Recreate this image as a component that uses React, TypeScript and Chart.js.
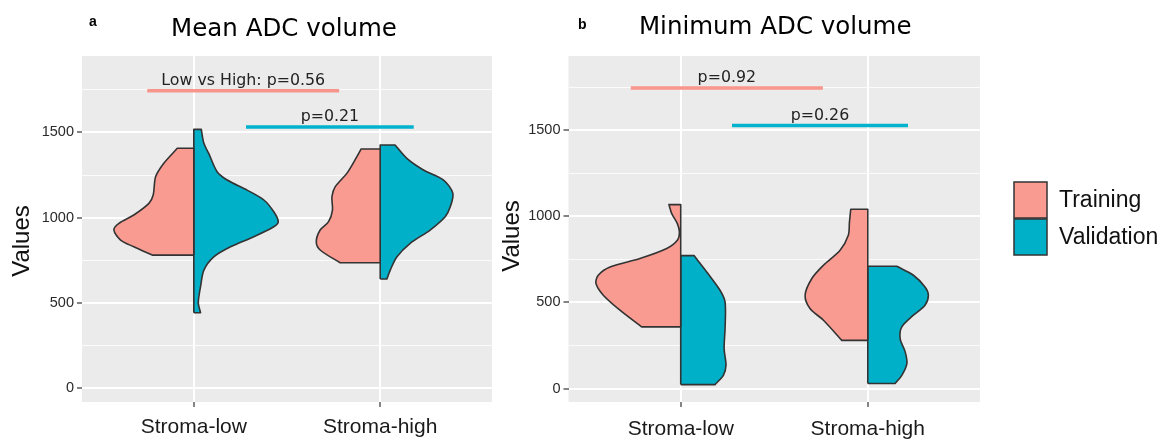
import React, { useEffect, useRef } from 'react';
import { Chart, registerables } from 'chart.js';

Chart.register(...registerables);

// ---------- data ----------
const categories = ['Stroma-low', 'Stroma-high'];
const groups = ['Training', 'Validation'];
const yTickValues = [0, 500, 1000, 1500];
const yMinorValues = [250, 750, 1250, 1750];

// Mean ADC volume: violin outline levels (value) and half-widths (category units)
const meanLowTrainY = [781, 830, 869, 928, 967, 1016, 1084, 1133, 1240, 1319, 1407];
const meanLowTrainW = [0.223, 0.322, 0.393, 0.429, 0.402, 0.322, 0.241, 0.218, 0.205, 0.161, 0.089];
const meanLowValidY = [443, 498, 537, 596, 693, 771, 830, 889, 947, 977, 1035, 1104, 1162, 1221, 1270, 1377, 1436, 1518];
const meanLowValidW = [0.036, 0.024, 0.027, 0.036, 0.054, 0.107, 0.197, 0.322, 0.429, 0.453, 0.429, 0.376, 0.286, 0.179, 0.125, 0.08, 0.054, 0.04];
const meanHighTrainY = [736, 811, 859, 928, 977, 1045, 1123, 1182, 1260, 1358, 1403];
const meanHighTrainW = [0.215, 0.322, 0.343, 0.322, 0.277, 0.256, 0.259, 0.241, 0.179, 0.125, 0.102];
const meanHighValidY = [641, 693, 771, 850, 928, 1006, 1064, 1143, 1221, 1280, 1348, 1426];
const meanHighValidW = [0.036, 0.054, 0.09, 0.161, 0.268, 0.349, 0.376, 0.39, 0.34, 0.232, 0.143, 0.08];

// Minimum ADC volume
const minLowTrainY = [358, 455, 542, 610, 658, 706, 755, 813, 861, 909, 958, 1016, 1068];
const minLowTrainW = [0.209, 0.325, 0.414, 0.453, 0.441, 0.378, 0.218, 0.075, 0.018, 0.007, 0.018, 0.048, 0.063];
const minLowValidY = [23, 77, 135, 232, 348, 503, 571, 677, 772];
const minLowValidW = [0.183, 0.228, 0.242, 0.232, 0.237, 0.237, 0.21, 0.139, 0.071];
const minHighTrainY = [280, 397, 465, 542, 639, 716, 803, 890, 967, 1041];
const minHighTrainW = [0.139, 0.237, 0.309, 0.335, 0.299, 0.237, 0.148, 0.104, 0.098, 0.091];
const minHighValidY = [29, 77, 145, 213, 290, 358, 426, 484, 542, 590, 658, 710];
const minHighValidW = [0.146, 0.182, 0.209, 0.2, 0.173, 0.182, 0.244, 0.306, 0.324, 0.306, 0.244, 0.155];

// significance bars
const meanSigLabels = ['Low vs High: p=0.56', 'p=0.21'];
const meanSigStart = [0.75, 1.28];
const meanSigEnd = [1.78, 2.18];
const meanSigY = [1745, 1532];
const minSigLabels = ['p=0.92', 'p=0.26'];
const minSigStart = [0.733, 1.274];
const minSigEnd = [1.76, 2.215];
const minSigY = [1745, 1527];

// ---------- styling ----------
const TRAIN_FILL = '#F99B91';
const VALID_FILL = '#00AFC8';
const TRAIN_LINE = '#F8968B';
const VALID_LINE = '#00B2CE';
const groupFills = [TRAIN_FILL, VALID_FILL];
const sigColors = [TRAIN_LINE, VALID_LINE];
const SANS = '"Liberation Sans", Arial, sans-serif';
const DEJAVU = '"DejaVu Sans", Verdana, sans-serif';

// Closed half-violin polygon; corner points are doubled so the spline keeps them sharp.
function halfViolin(center: number, side: number, ys: number[], ws: number[]) {
  const n = ys.length;
  const pts: { x: number; y: number }[] = [];
  pts.push({ x: center, y: ys[0] });
  ys.forEach((y, i) => {
    const pt = { x: center + side * ws[i], y };
    pts.push(pt);
    if (i === 0 || i === n - 1) pts.push({ ...pt });
  });
  pts.push({ x: center, y: ys[n - 1] });
  pts.push({ x: center, y: ys[n - 1] });
  pts.push({ x: center, y: ys[0] });
  return pts;
}

type Panel = {
  title: string;
  letter: string;
  yMin: number;
  yMax: number;
  violins: { cat: number; group: number; ys: number[]; ws: number[] }[];
  sigLabels: string[];
  sigStart: number[];
  sigEnd: number[];
  sigY: number[];
  canvasLeft: number;
  canvasWidth: number;
  yAxisWidth: number;
  padRight: number;
  titleShift: number;
  titleBaseline: number;
  letterX: number;
  letterBaseline: number;
  valuesX: number;
  valuesY: number;
  xLabelPad: number;
  legend: boolean;
};

const panels: Panel[] = [
  {
    title: 'Mean ADC volume',
    letter: 'a',
    yMin: -80,
    yMax: 1948,
    violins: [
      { cat: 1, group: 0, ys: meanLowTrainY, ws: meanLowTrainW },
      { cat: 1, group: 1, ys: meanLowValidY, ws: meanLowValidW },
      { cat: 2, group: 0, ys: meanHighTrainY, ws: meanHighTrainW },
      { cat: 2, group: 1, ys: meanHighValidY, ws: meanHighValidW },
    ],
    sigLabels: meanSigLabels,
    sigStart: meanSigStart,
    sigEnd: meanSigEnd,
    sigY: meanSigY,
    canvasLeft: 0,
    canvasWidth: 500,
    yAxisWidth: 82,
    padRight: 8,
    titleShift: -3,
    titleBaseline: 36,
    letterX: 89,
    letterBaseline: 26,
    valuesX: 22,
    valuesY: 241,
    xLabelPad: 8,
    legend: false,
  },
  {
    title: 'Minimum ADC volume',
    letter: 'b',
    yMin: -78,
    yMax: 1931,
    violins: [
      { cat: 1, group: 0, ys: minLowTrainY, ws: minLowTrainW },
      { cat: 1, group: 1, ys: minLowValidY, ws: minLowValidW },
      { cat: 2, group: 0, ys: minHighTrainY, ws: minHighTrainW },
      { cat: 2, group: 1, ys: minHighValidY, ws: minHighValidW },
    ],
    sigLabels: minSigLabels,
    sigStart: minSigStart,
    sigEnd: minSigEnd,
    sigY: minSigY,
    canvasLeft: 495,
    canvasWidth: 670,
    yAxisWidth: 73.5,
    padRight: 185,
    titleShift: 1,
    titleBaseline: 34,
    letterX: 83,
    letterBaseline: 29,
    valuesX: 17.5,
    valuesY: 236,
    xLabelPad: 10,
    legend: true,
  },
];

function buildChart(canvas: HTMLCanvasElement, p: Panel) {
  const datasets: any[] = [];
  p.violins.forEach((v) => {
    datasets.push({
      data: halfViolin(v.cat, v.group === 0 ? -1 : 1, v.ys, v.ws),
      borderColor: '#333333',
      borderWidth: 1.6,
      backgroundColor: groupFills[v.group],
      fill: 'shape',
      pointRadius: 0,
      tension: 0.3,
      borderJoinStyle: 'round',
    });
  });
  p.sigLabels.forEach((_, i) => {
    datasets.push({
      data: [
        { x: p.sigStart[i], y: p.sigY[i] },
        { x: p.sigEnd[i], y: p.sigY[i] },
      ],
      borderColor: sigColors[i],
      borderWidth: 3.5,
      borderCapStyle: 'butt',
      fill: false,
      pointRadius: 0,
      tension: 0,
    });
  });

  const panelPlugin = {
    id: 'panelDecor',
    beforeDraw(chart: any) {
      const { ctx, chartArea: a } = chart;
      ctx.save();
      ctx.fillStyle = '#EBEBEB';
      ctx.fillRect(a.left, a.top, a.right - a.left, a.bottom - a.top);
      ctx.restore();
    },
    afterDraw(chart: any) {
      const { ctx, chartArea: a, scales } = chart;
      ctx.save();
      // title
      ctx.fillStyle = '#000';
      ctx.font = `24.5px ${DEJAVU}`;
      ctx.textAlign = 'center';
      ctx.textBaseline = 'alphabetic';
      ctx.fillText(p.title, (a.left + a.right) / 2 + p.titleShift, p.titleBaseline);
      // panel letter
      ctx.font = `bold 14px ${SANS}`;
      ctx.textAlign = 'left';
      ctx.fillText(p.letter, p.letterX, p.letterBaseline);
      // y axis title
      ctx.save();
      ctx.translate(p.valuesX, p.valuesY);
      ctx.rotate(-Math.PI / 2);
      ctx.textAlign = 'center';
      ctx.textBaseline = 'middle';
      ctx.font = `24px ${SANS}`;
      ctx.fillStyle = '#111';
      ctx.fillText('Values', 0, 0);
      ctx.restore();
      // significance labels
      ctx.font = `15.8px ${DEJAVU}`;
      ctx.fillStyle = '#222';
      ctx.textAlign = 'center';
      ctx.textBaseline = 'alphabetic';
      p.sigLabels.forEach((lab, i) => {
        const cx = (scales.x.getPixelForValue(p.sigStart[i]) + scales.x.getPixelForValue(p.sigEnd[i])) / 2;
        const yy = scales.y.getPixelForValue(p.sigY[i]);
        ctx.fillText(lab, cx, yy - 6);
      });
      // legend
      if (p.legend) {
        const bx = 1014 - p.canvasLeft;
        const tops = [182, 219];
        groups.forEach((g, i) => {
          ctx.fillStyle = groupFills[i];
          ctx.fillRect(bx, tops[i], 33, 36);
          ctx.strokeStyle = '#333';
          ctx.lineWidth = 1.5;
          ctx.strokeRect(bx, tops[i], 33, 36);
          ctx.fillStyle = '#111';
          ctx.font = `23px ${SANS}`;
          ctx.textAlign = 'left';
          ctx.textBaseline = 'middle';
          ctx.fillText(g, 1059 - p.canvasLeft, tops[i] + 19);
        });
      }
      ctx.restore();
    },
  };

  return new Chart(canvas, {
    type: 'line',
    data: { datasets },
    plugins: [panelPlugin],
    options: {
      responsive: false,
      maintainAspectRatio: false,
      animation: false,
      events: [],
      layout: { padding: { top: 56, left: 0, right: p.padRight, bottom: 0 } },
      plugins: {
        legend: { display: false },
        tooltip: { enabled: false },
        title: { display: false },
      },
      scales: {
        x: {
          type: 'linear',
          min: 0.4,
          max: 2.6,
          afterBuildTicks: (s: any) => {
            s.ticks = categories.map((_, i) => ({ value: i + 1 }));
          },
          afterFit: (s: any) => {
            s.height = 37;
          },
          ticks: {
            callback: (v: any) => categories[Math.round(Number(v)) - 1] ?? '',
            font: { family: SANS, size: 21 },
            color: '#1a1a1a',
            padding: p.xLabelPad,
            maxRotation: 0,
            autoSkip: false,
          },
          grid: {
            color: '#ffffff',
            lineWidth: 2,
            tickColor: '#333333',
            tickLength: 5,
            tickWidth: 1.2,
          },
          border: { display: false },
        },
        y: {
          type: 'linear',
          min: p.yMin,
          max: p.yMax,
          afterBuildTicks: (s: any) => {
            s.ticks = [...yTickValues, ...yMinorValues].sort((a, b) => a - b).map((v) => ({ value: v }));
          },
          afterFit: (s: any) => {
            s.width = p.yAxisWidth;
          },
          ticks: {
            callback: (v: any) => (yTickValues.includes(Number(v)) ? String(v) : ''),
            font: { family: SANS, size: 14.5 },
            color: '#2a2a2a',
            padding: 3,
            autoSkip: false,
          },
          grid: {
            color: (c: any) => (yTickValues.includes(c.tick?.value) ? '#ffffff' : 'rgba(255,255,255,0.8)'),
            lineWidth: (c: any) => (yTickValues.includes(c.tick?.value) ? 2 : 1),
            tickColor: (c: any) => (yTickValues.includes(c.tick?.value) ? '#333333' : 'rgba(0,0,0,0)'),
            tickLength: 5,
            tickWidth: 1.2,
          },
          border: { display: false },
        },
      },
    } as any,
  });
}

function PanelChart({ p }: { p: Panel }) {
  const ref = useRef<HTMLCanvasElement | null>(null);
  useEffect(() => {
    if (!ref.current) return;
    const chart = buildChart(ref.current, p);
    return () => chart.destroy();
  }, [p]);
  return (
    <canvas
      ref={ref}
      width={p.canvasWidth}
      height={439}
      style={{ position: 'absolute', left: p.canvasLeft, top: 0, width: p.canvasWidth, height: 439 }}
    />
  );
}

export default function App() {
  return (
    <div style={{ position: 'absolute', left: 0, top: 0, width: 1165, height: 439, background: '#ffffff', overflow: 'hidden' }}>
      {panels.map((p) => (
        <PanelChart key={p.letter} p={p} />
      ))}
    </div>
  );
}
